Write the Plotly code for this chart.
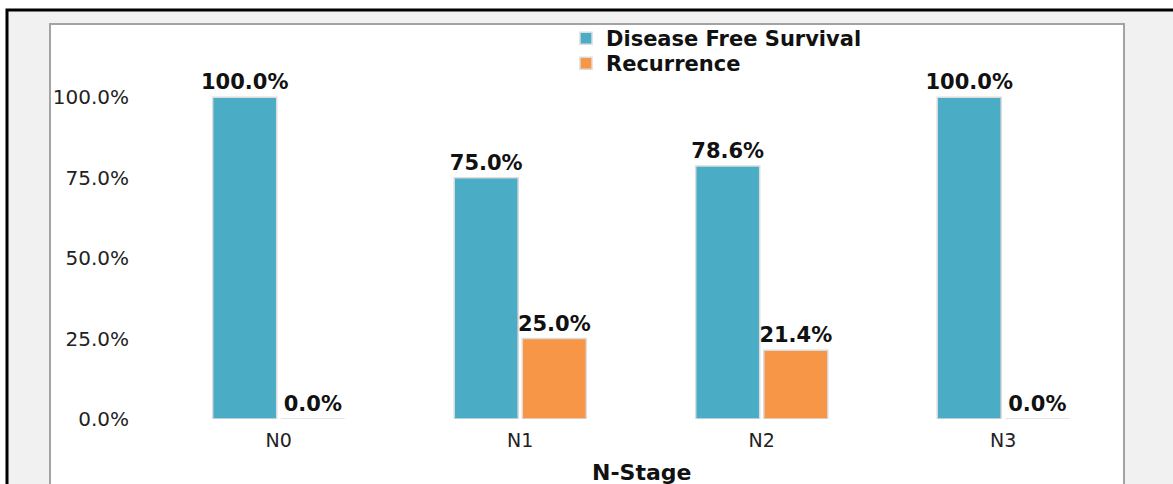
import plotly.graph_objects as go

# Data
stages = ["N0", "N1", "N2", "N3"]
dfs_pct = [100.0, 75.0, 78.6, 100.0]
recurrence_pct = [0.0, 25.0, 21.4, 0.0]
y_ticks = [0, 25, 50, 75, 100]
y_tick_labels = ["0.0%", "25.0%", "50.0%", "75.0%", "100.0%"]

BLUE = "#4BACC6"
ORANGE = "#F79646"

W, H = 1173, 484
ML, MR, MT, MB = 158, 49, 65, 65
PW, PH = W - ML - MR, H - MT - MB


def px_x(p):
    return (p - ML) / PW


def px_y(p):
    return (H - MB - p) / PH


series = [
    ("Disease Free Survival", dfs_pct, BLUE, "legend", 18),
    ("Recurrence", recurrence_pct, ORANGE, "legend2", 43),
]

fig = go.Figure()
for name, vals, col, leg, _ in series:
    fig.add_trace(go.Bar(
        x=stages, y=vals, name=name, legend=leg,
        marker=dict(color=col, line=dict(color="#dcdcdc", width=1.5)),
        text=[f"{v:.1f}%" for v in vals],
        textposition="outside",
        constraintext="none",
        textfont=dict(family="DejaVu Sans", size=21, color="#111111", weight="bold"),
        cliponaxis=False,
    ))

shapes = [
    # outer frame
    dict(type="rect", xref="paper", yref="paper",
         x0=px_x(7), x1=px_x(1180), y0=px_y(10), y1=px_y(500),
         fillcolor="#f1f1f1", line=dict(color="black", width=3), layer="below"),
    # inner white panel
    dict(type="rect", xref="paper", yref="paper",
         x0=px_x(50), x1=px_x(1124), y0=px_y(24), y1=px_y(500),
         fillcolor="white", line=dict(color="#a3a3a3", width=2), layer="below"),
]

legend_style = dict(
    xanchor="left", yanchor="top", bgcolor="rgba(0,0,0,0)",
    font=dict(family="DejaVu Sans", size=21, color="#111111", weight="bold"),
)

layout_legends = {}
for name, vals, col, leg, top in series:
    layout_legends[leg] = dict(legend_style, x=px_x(566), y=px_y(top))

fig.update_layout(
    width=W, height=H,
    margin=dict(l=ML, r=MR, t=MT, b=MB),
    paper_bgcolor="white",
    plot_bgcolor="rgba(0,0,0,0)",
    barmode="group",
    bargap=0.436,
    bargroupgap=0.06,
    shapes=shapes,
    showlegend=True,
    xaxis=dict(
        range=[-0.5, 3.5], showgrid=False, showline=False, zeroline=False,
        ticks="", ticklabelstandoff=8,
        tickfont=dict(family="DejaVu Sans", size=19, color="#222222"),
    ),
    yaxis=dict(
        range=[0, 110], tickvals=y_ticks, ticktext=y_tick_labels,
        showgrid=False, showline=False, zeroline=False, ticks="",
        ticklabelstandoff=28,
        tickfont=dict(family="DejaVu Sans", size=20, color="#222222"),
    ),
    annotations=[dict(
        text="<b>N-Stage</b>", xref="paper", yref="paper", x=0.5, y=0,
        xanchor="center", yanchor="top", yshift=-39, showarrow=False,
        font=dict(family="DejaVu Sans", size=22, color="#111111"),
    )],
    **layout_legends,
)

fig.write_html("out.html")
